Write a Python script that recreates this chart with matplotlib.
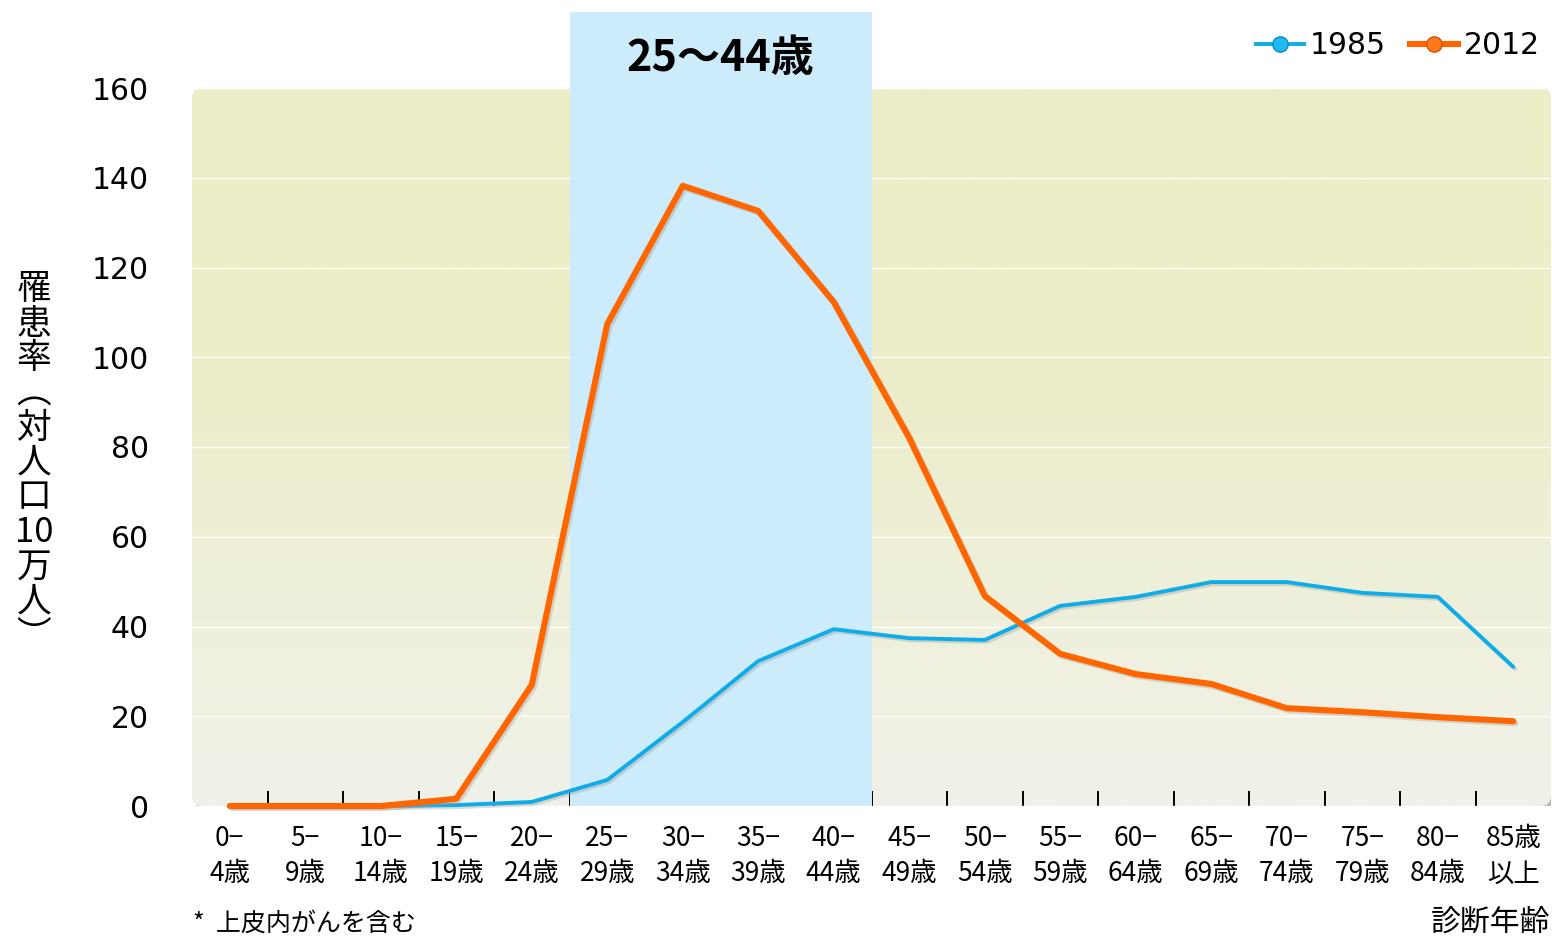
import numpy as np
import matplotlib
matplotlib.use("Agg")
import matplotlib.pyplot as plt
import matplotlib.patheffects as pe
from matplotlib.patches import FancyBboxPatch, Rectangle

JP = ["Noto Sans CJK JP", "DejaVu Sans"]
LAT = ["DejaVu Sans"]

age_groups = ["0−\n4歳", "5−\n9歳", "10−\n14歳", "15−\n19歳", "20−\n24歳", "25−\n29歳",
              "30−\n34歳", "35−\n39歳", "40−\n44歳", "45−\n49歳", "50−\n54歳", "55−\n59歳",
              "60−\n64歳", "65−\n69歳", "70−\n74歳", "75−\n79歳", "80−\n84歳", "85歳\n以上"]
rate_1985 = [0.0, 0.0, 0.0, 0.2, 0.9, 5.8, 18.7, 32.3, 39.4, 37.4, 37.0, 44.6,
             46.6, 49.9, 49.9, 47.5, 46.6, 31.0]
rate_2012 = [0.0, 0.0, 0.0, 1.6, 27.0, 107.4, 138.2, 132.6, 112.3, 82.0, 46.8, 33.9,
             29.4, 27.2, 21.8, 20.9, 19.8, 18.9]
yticks = [0, 20, 40, 60, 80, 100, 120, 140, 160]
band_groups = (5, 8)  # 25-29 .. 40-44
band_label = "25〜44歳"

W, H = 1552, 939
fig = plt.figure(figsize=(W / 100, H / 100), dpi=100)
ax_l, ax_r, ax_t, ax_b = 192, 1551, 88, 806
ax = fig.add_axes([ax_l / W, 1 - ax_b / H, (ax_r - ax_l) / W, (ax_b - ax_t) / H])
ax.set_facecolor("none")
for s in ax.spines.values():
    s.set_visible(False)

x = np.arange(len(age_groups))
ax.set_xlim(-0.5, len(age_groups) - 0.5)
ax.set_ylim(0, 160)

# rounded background panel with drop shadow
aspect = (ax_r - ax_l) / (ax_b - ax_t)
panel = FancyBboxPatch((0, 0), 1, 1, boxstyle="round,pad=0,rounding_size=0.008",
                       mutation_aspect=aspect, transform=ax.transAxes,
                       facecolor="#EDEDC9", edgecolor="none", zorder=-2)
panel.set_path_effects([pe.SimplePatchShadow(offset=(3, -5), shadow_rgbFace="#777777", alpha=0.55),
                        pe.Normal()])
ax.add_patch(panel)

top = np.array([237, 237, 199]) / 255
bot = np.array([240, 242, 234]) / 255
t = np.linspace(0, 1, 256)[:, None]
t = np.clip((t - 0.35) / 0.65, 0, 1)
grad = (top * (1 - t) + bot * t)[:, None, :]
im = ax.imshow(grad, extent=[-0.5, len(age_groups) - 0.5, 0, 160], aspect="auto",
               origin="upper", zorder=-1, interpolation="bilinear")
im.set_clip_path(panel)

ax.set_yticks(yticks)
ax.yaxis.grid(True, color="white", lw=1, alpha=0.9)
ax.set_axisbelow(True)

# highlighted age range, running up to the top of the figure
band_top = 160 * (ax_b - 12) / (ax_b - ax_t)
ax.add_patch(Rectangle((band_groups[0] - 0.5, 0), band_groups[1] - band_groups[0] + 1, band_top,
                       facecolor="#CCEBFB", edgecolor="none", zorder=1, clip_on=False))
ax.text((band_groups[0] + band_groups[1]) / 2, 1 + (ax_t - 58) / (ax_b - ax_t), band_label,
        transform=ax.get_xaxis_transform(), fontsize=31, fontweight="bold", family=JP,
        ha="center", va="center", zorder=2)

line_fx = [pe.SimpleLineShadow(offset=(1.5, -1.5), shadow_color="#999999", alpha=0.35), pe.Normal()]
ax.plot(x, rate_1985, color="#0FACE8", lw=2.8, zorder=3, clip_on=False,
        solid_joinstyle="round", solid_capstyle="round", path_effects=line_fx, label="1985")
ax.plot(x, rate_2012, color="#FF6600", lw=4.4, zorder=4, clip_on=False,
        solid_joinstyle="round", solid_capstyle="round", path_effects=line_fx, label="2012")

# ticks: labels at group centres, marks on the boundaries
ax.set_xticks(x)
ax.set_xticklabels(age_groups, family=JP, fontsize=19, linespacing=1.38)
ax.set_xticks(x[:-1] + 0.5, minor=True)
ax.tick_params(axis="x", which="major", length=0, pad=14)
ax.tick_params(axis="x", which="minor", direction="in", length=11, width=1.4, color="black")
ax.set_yticklabels([str(v) for v in yticks], family=LAT, fontsize=21.5)
ax.tick_params(axis="y", length=0, pad=31)

leg_handles = [
    plt.Line2D([], [], color="#0FACE8", lw=2.8, marker="o", markersize=11,
               markerfacecolor="#22B8F0", markeredgecolor="#0A8CC8"),
    plt.Line2D([], [], color="#FF6600", lw=4.4, marker="o", markersize=11,
               markerfacecolor="#FF7A1A", markeredgecolor="#D95200"),
]
fig.legend(leg_handles, ["1985", "2012"], loc="center right", bbox_to_anchor=(1.0, 1 - 46 / H),
           ncol=2, frameon=False, prop={"family": LAT, "size": 21.5}, handlelength=1.6,
           handletextpad=0.2, columnspacing=0.8, borderpad=0.1, borderaxespad=0.3)

ylabel = "\n".join(["罹", "患", "率", "︵", "対", "人", "口", "10", "万", "人", "︶"])
fig.text(34 / W, 1 - 463 / H, ylabel, family=JP, fontsize=25, ha="center", va="center",
         linespacing=0.99)

fig.text(1550 / W, 1 - 922 / H, "診断年齢", family=JP, fontsize=21.5, ha="right", va="center")
fig.text(193 / W, 1 - 937 / H, "*  上皮内がんを含む", family=JP, fontsize=18, ha="left", va="bottom")

fig.savefig("out.png", dpi=100)
